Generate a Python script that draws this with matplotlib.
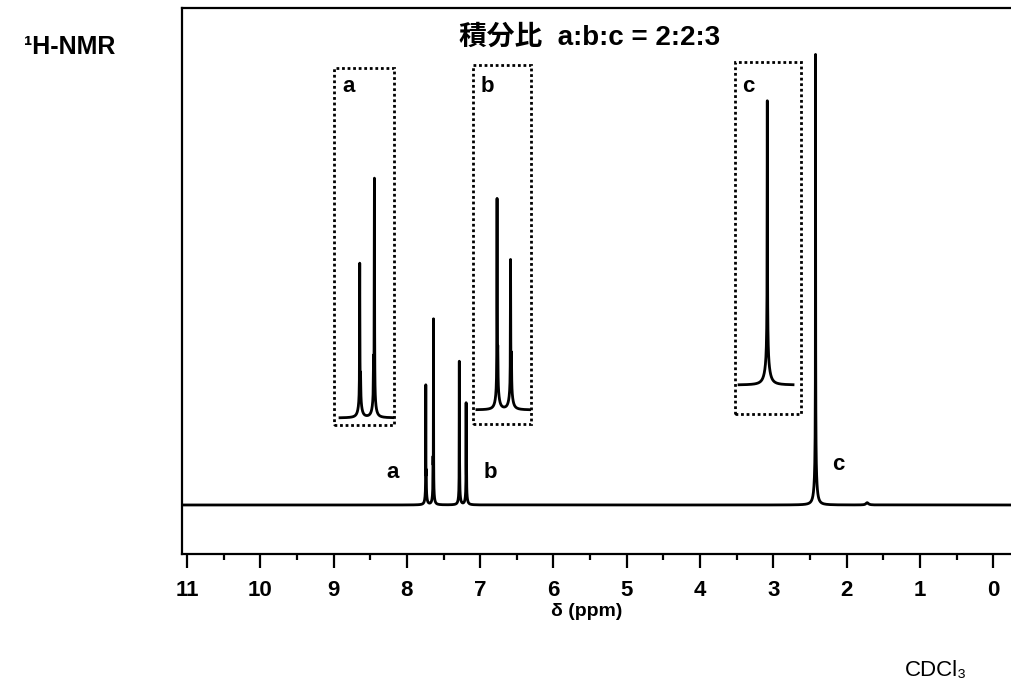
import numpy as np
import matplotlib
matplotlib.use("Agg")
import matplotlib.pyplot as plt
from matplotlib.patches import Rectangle

# ---------------- data ----------------
title_text = "積分比  a:b:c = 2:2:3"
nmr_label = "¹H-NMR"
solvent_label = "CDCl₃"
x_label = "δ (ppm)"
x_ticks = list(range(0, 12))
x_tick_labels = [str(t) for t in x_ticks]
x_minor_ticks = [t + 0.5 for t in range(0, 11)]

# peak list (ppm, height, half width); c = 100
peak_ppm    = [7.742, 7.736, 7.740, 7.637, 7.643, 7.639,
               7.285, 7.280, 7.283, 7.192, 7.186, 7.190,
               2.425, 2.425, 2.425, 1.72]
peak_height = [23.0, 4.0, 3.2, 37.0, 6.0, 3.6,
               28.0, 5.0, 3.2, 19.0, 5.0, 3.2,
               75.0, 17.0, 7.0, 0.5]
peak_hwhm   = [0.0012, 0.0015, 0.012, 0.0012, 0.0015, 0.012,
               0.0012, 0.0015, 0.012, 0.0012, 0.0015, 0.012,
               0.0010, 0.0050, 0.020, 0.020]

peak_labels = ["a", "b", "c"]
inset_windows = [(7.883, 7.504), (7.424, 7.051), (2.627, 2.241)]


def spectrum(x):
    y = np.zeros_like(x)
    for p, h, w in zip(peak_ppm, peak_height, peak_hwhm):
        y += h * w ** 2 / ((x - p) ** 2 + w ** 2)
    return y


W, H = 1012, 686
fig = plt.figure(figsize=(W / 100, H / 100), dpi=100)


def fx(px):
    return px / W


def fy(py):
    return 1 - py / H


def box(x0, y0, x1, y1):
    return [fx(x0), fy(y1), fx(x1) - fx(x0), fy(y0) - fy(y1)]


narrow = ["Liberation Sans Narrow", "Liberation Sans", "DejaVu Sans"]
sans = ["Liberation Sans", "DejaVu Sans"]
cjk = ["Liberation Sans", "Noto Sans CJK JP", "DejaVu Sans"]

# ---------------- main axes ----------------
ax = fig.add_axes(box(182, 8, 1012, 554))
grid = np.union1d(np.arange(-0.4, 11.2, 0.0004), np.array(peak_ppm))
ax.plot(grid, spectrum(grid), color="black", lw=2.0)
ax.set_xlim(11.068, -0.255)
ax.set_ylim(-10.77, 109.2)
ax.spines["right"].set_visible(False)
for s in ["left", "top", "bottom"]:
    ax.spines[s].set_linewidth(1.6)
ax.set_yticks([])
ax.set_xticks(x_ticks)
ax.set_xticklabels(x_tick_labels, family=narrow, fontweight="bold", fontsize=16)
ax.set_xticks(x_minor_ticks, minor=True)
ax.tick_params(axis="x", which="major", direction="out", length=10, width=1.6, pad=9)
ax.tick_params(axis="x", which="minor", direction="out", length=4.5, width=1.6)
fig.text(fx(587), fy(611), x_label, family=narrow, fontweight="bold",
         fontsize=14, ha="center", va="center")

# ---------------- insets ----------------
inset_boxes = [(334, 68, 394, 425), (473, 65, 531, 424), (735, 62, 801, 414)]
inset_xlims = [(7.926, 7.497), (7.451, 7.051), (2.656, 2.184)]
inset_ylims = [(-1.2, 59.7), (-2.09, 51.5), (-10.1, 112.5)]
inset_label_pos = [(349, 87), (487, 86), (748, 87)]
for (b, xl, yl, win, lab, lp) in zip(inset_boxes, inset_xlims, inset_ylims,
                                      inset_windows, peak_labels, inset_label_pos):
    ia = fig.add_axes(box(*b))
    ia.set_facecolor("none")
    xs = np.union1d(np.linspace(win[1], win[0], 6000),
                    np.array([p for p in peak_ppm if win[1] <= p <= win[0]]))
    ia.plot(xs, spectrum(xs), color="black", lw=2.0)
    ia.set_xlim(*xl)
    ia.set_ylim(*yl)
    ia.set_xticks([])
    ia.set_yticks([])
    for s in ia.spines.values():
        s.set_visible(False)
    ia.add_patch(Rectangle((0, 0), 1, 1, transform=ia.transAxes, fill=False,
                           edgecolor="black", linewidth=2.0,
                           linestyle=(0, (1.0, 1.0)), clip_on=False))
    fig.text(fx(lp[0]), fy(lp[1]), lab, family=sans, fontweight="bold",
             fontsize=16, ha="center", va="center")

# ---------------- texts ----------------
peak_label_pos = [(393, 472), (490, 472), (838, 464)]
for lab, lp in zip(peak_labels, peak_label_pos):
    fig.text(fx(lp[0]), fy(lp[1]), lab, family=sans, fontweight="bold",
             fontsize=16, ha="center", va="center")

fig.text(fx(590), fy(38), title_text, family=cjk, fontweight="bold",
         fontsize=20, ha="center", va="center")
fig.text(fx(70), fy(47), nmr_label, family=sans, fontweight="bold",
         fontsize=18, ha="center", va="center")
fig.text(fx(936), fy(670), solvent_label, family=sans,
         fontsize=16, ha="center", va="center")

fig.savefig("out.png", dpi=100)
